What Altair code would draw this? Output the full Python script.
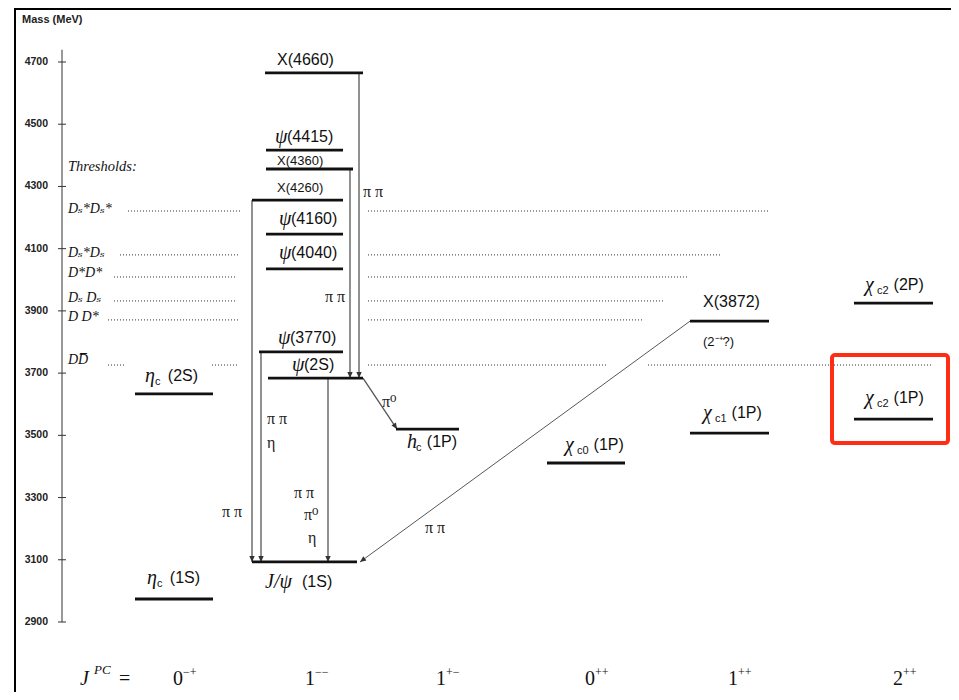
import math
import altair as alt
import pandas as pd

# ---------------- data ----------------
tick_values = [4700, 4500, 4300, 4100, 3900, 3700, 3500, 3300, 3100, 2900]
axis_top_mass = 4739

# charmonium levels
lvl_sym = ["", "ψ", "", "", "ψ", "ψ", "ψ", "ψ", "J/ψ", "η", "η", "h", "χ", "", "χ", "χ", "χ"]
lvl_sub = ["", "", "", "", "", "", "", "", "", "c", "c", "c", "c0", "", "c1", "c2", "c2"]
lvl_rest = ["X(4660)", "(4415)", "X(4360)", "X(4260)", "(4160)", "(4040)", "(3770)", "(2S)",
            "(1S)", "(2S)", "(1S)", "(1P)", "(1P)", "X(3872)", "(1P)", "(2P)", "(1P)"]
lvl_mass = [4665, 4417, 4356, 4256, 4147, 4035, 3768, 3684, 3093, 3633, 2974, 3520, 3411,
            3867, 3507, 3925, 3552]

# layout of the diagram (horizontal extents, label anchors)
lvl_x1 = [265, 266, 266, 252, 266, 266, 259, 268, 252, 135, 135, 396, 547, 690, 690, 854, 854]
lvl_x2 = [363, 343, 353, 343, 343, 343, 343, 363, 357, 213, 213, 459, 625, 769, 769, 933, 933]
lbl_x = [277, 275, 277, 277, 279, 279, 278, 292, 265, 145, 147, 407, 565, 703, 703, 865, 865]
lbl_m = [4705, 4459, 4382, 4295, 4195, 4086, 3813, 3726, 3029, 3691, 3041, 3479, 3469,
         3929, 3572, 3983, 3620]
lbl_gap = [0, 0, 0, 0, 0, 0, 0, 0, 5, 7, 7, 5, 5, 0, 5, 5, 5]
lbl_small = [False, False, True, True, False, False, False, False, False, False, False,
             False, False, False, False, False, False]

# thresholds
thr_names = ["Dₛ*Dₛ*", "Dₛ*Dₛ", "D*D*", "Dₛ Dₛ", "D D*", "DD\u0305"]
thr_mass = [4221, 4080, 4009, 3932, 3871, 3726]
thr_label_m = [4227, 4086, 4022, 3941, 3880, 3742]
thr_seg_idx = [0, 0, 1, 1, 2, 2, 3, 3, 4, 4, 5, 5, 5, 5]
thr_seg_x1 = [128, 368, 120, 368, 114, 368, 114, 368, 108, 368, 108, 212, 368, 648]
thr_seg_x2 = [240, 768, 238, 720, 237, 688, 237, 663, 240, 642, 126, 237, 607, 932]

# transitions (arrows)
arr_x1 = [359, 350, 252, 261, 328, 363, 690]
arr_m1 = [4665, 4356, 4256, 3768, 3684, 3684, 3867]
arr_x2 = [359, 350, 252, 261, 328, 397, 360]
arr_m2 = [3684, 3684, 3093, 3093, 3093, 3520, 3093]
arr_thin = [False, False, False, False, False, False, True]

# transition labels
tl_text = ["π π", "π π", "π π", "π π", "η", "π π", "π⁰", "η", "π⁰", "π π"]
tl_x = [363, 325, 222, 267, 267, 294, 304, 308, 382, 425]
tl_m = [4282, 3945, 3254, 3552, 3475, 3315, 3244, 3170, 3607, 3202]

# J^PC row
jpc_base = ["0", "1", "1", "0", "1", "2"]
jpc_sup = ["−+", "−−", "+−", "++", "++", "++"]
jpc_x = [173, 305, 436, 585, 728, 893]
jpc_m = 2717

# highlight box around chi_c2(1P)
hl_x1, hl_x2, hl_m1, hl_m2 = 832, 948, 3758, 3475

# ---------------- scales ----------------
W, H = 943, 684
PX_PER_MEV = 560 / 1800.0
top_mass = 4700 + (62 - 8) / PX_PER_MEV
bot_mass = 4700 - (8 + H - 62) / PX_PER_MEV
xs = alt.Scale(domain=[8, 8 + W], nice=False, zero=False)
ys = alt.Scale(domain=[bot_mass, top_mass], nice=False, zero=False)

SANS = "Liberation Sans, Arial, Helvetica, sans-serif"
SERIF = "Liberation Serif, Times New Roman, DejaVu Serif, serif"
INK = "#111111"


def X(f):
    return alt.X(f, type="quantitative", scale=xs, axis=None)


def X2(f):
    return alt.X2(f)


def Y(f):
    return alt.Y(f, type="quantitative", scale=ys, axis=None)


# ---------------- frame ----------------
frame_df = pd.DataFrame({"x1": [15, 15], "x2": [15, 959], "y1": [0, 1], "y2": [H, 1]})
frame = alt.Chart(frame_df).mark_rule(color="#000", strokeWidth=2).encode(
    x=alt.X("x1:Q", scale=xs, axis=None), x2="x2:Q",
    y=alt.Y("y1:Q", scale=None, axis=None), y2="y2:Q")

# ---------------- axis ----------------
axis_df = pd.DataFrame({"x": [62], "m1": [axis_top_mass], "m2": [tick_values[-1]]})
axis_line = alt.Chart(axis_df).mark_rule(color="#555", strokeWidth=1.2).encode(
    x=X("x"), y=Y("m1"), y2=alt.Y2("m2"))
tick_df = pd.DataFrame({"m": tick_values, "t1": 58, "t2": 66, "lx": 48})
ticks = alt.Chart(tick_df).mark_rule(color="#333", strokeWidth=1).encode(
    x=X("t1"), x2=X2("t2"), y=Y("m"))
tick_labels = alt.Chart(tick_df).mark_text(
    align="right", baseline="middle", font=SANS, fontWeight="bold", fontSize=10.5, color="#222"
).encode(x=X("lx"), y=Y("m"), text=alt.Text("m:Q", format="d"))
mass_title = alt.Chart(pd.DataFrame({"x": [22], "m": [4835], "t": ["Mass (MeV)"]})).mark_text(
    align="left", baseline="middle", font=SANS, fontWeight="bold", fontSize=11, color="#222"
).encode(x=X("x"), y=Y("m"), text="t:N")

# ---------------- thresholds ----------------
seg_df = pd.DataFrame({
    "x1": thr_seg_x1, "x2": thr_seg_x2,
    "m": [thr_mass[i] for i in thr_seg_idx],
})
thr_lines = alt.Chart(seg_df).mark_rule(color="#333", strokeWidth=1, strokeDash=[1, 2]).encode(
    x=X("x1"), x2=X2("x2"), y=Y("m"))
thr_lab_df = pd.DataFrame({"t": thr_names, "m": thr_label_m, "x": 68})
thr_labels = alt.Chart(thr_lab_df).mark_text(
    align="left", baseline="middle", font=SERIF, fontStyle="italic", fontSize=14, color=INK
).encode(x=X("x"), y=Y("m"), text="t:N")
thr_title = alt.Chart(pd.DataFrame({"x": [68], "m": [4362], "t": ["Thresholds:"]})).mark_text(
    align="left", baseline="middle", font=SERIF, fontStyle="italic", fontSize=14.5, color=INK
).encode(x=X("x"), y=Y("m"), text="t:N")

# ---------------- levels ----------------
sym_w = {"": 0, "ψ": 12, "J/ψ": 32, "η": 10, "χ": 12, "h": 9}
lv = pd.DataFrame({
    "sym": lvl_sym, "sub": lvl_sub, "rest": lvl_rest, "m": lvl_mass,
    "x1": lvl_x1, "x2": lvl_x2, "lx": lbl_x, "lm": lbl_m,
})
lv["subx"] = [lx + sym_w[s] for lx, s in zip(lbl_x, lvl_sym)]
lv["restx"] = [sx + 5.8 * len(sb) + g for sx, sb, g in zip(lv["subx"], lvl_sub, lbl_gap)]
lv["fs"] = [13 if s else 16 for s in lbl_small]

levels = alt.Chart(lv).mark_rule(color=INK, strokeWidth=2.8).encode(
    x=X("x1"), x2=X2("x2"), y=Y("m"))
sym_text = alt.Chart(lv).mark_text(
    align="left", baseline="middle", font=SERIF, fontStyle="italic", fontSize=20, color=INK
).encode(x=X("lx"), y=Y("lm"), text="sym:N")
sub_text = alt.Chart(lv).mark_text(
    align="left", baseline="middle", font=SANS, fontSize=11, dy=6, color=INK
).encode(x=X("subx"), y=Y("lm"), text="sub:N")
rest_text = alt.Chart(lv).mark_text(
    align="left", baseline="middle", font=SANS, color=INK
).encode(x=X("restx"), y=Y("lm"), text="rest:N", size=alt.Size("fs:Q", scale=None, legend=None))
jpc_note = alt.Chart(pd.DataFrame({"x": [703], "m": [3800], "t": ["(2⁻⁺?)"]})).mark_text(
    align="left", baseline="middle", font=SANS, fontSize=13, color=INK
).encode(x=X("x"), y=Y("m"), text="t:N")

# ---------------- transitions ----------------
ang = []
for a, b, c, d in zip(arr_x1, arr_m1, arr_x2, arr_m2):
    dx = c - a
    dy = (b - d) * PX_PER_MEV
    ang.append((math.degrees(math.atan2(-dx, dy)) + 360) % 360)
ar = pd.DataFrame({"x1": arr_x1, "m1": arr_m1, "x2": arr_x2, "m2": arr_m2,
                   "ang": ang, "thin": arr_thin})
arrow_thick = alt.Chart(ar[~ar["thin"]]).mark_rule(color="#555", strokeWidth=1.3).encode(
    x=X("x1"), x2=X2("x2"), y=Y("m1"), y2=alt.Y2("m2"))
arrow_thin = alt.Chart(ar[ar["thin"]]).mark_rule(color="#444", strokeWidth=0.9).encode(
    x=X("x1"), x2=X2("x2"), y=Y("m1"), y2=alt.Y2("m2"))
heads = alt.Chart(ar).mark_point(
    shape="M0,0L-0.45,-1L0.45,-1Z", filled=True, color="#333", size=144, opacity=1
).encode(x=X("x2"), y=Y("m2"), angle=alt.Angle("ang:Q", scale=None))

tl = pd.DataFrame({"t": tl_text, "x": tl_x, "m": tl_m})
tr_labels = alt.Chart(tl).mark_text(
    align="left", baseline="middle", font=SERIF, fontSize=16, color="#222"
).encode(x=X("x"), y=Y("m"), text="t:N")

# ---------------- J^PC row ----------------
jp = pd.DataFrame({"b": jpc_base, "s": jpc_sup, "x": jpc_x, "m": jpc_m})
jp["sx"] = jp["x"] + 10
base_txt = alt.Chart(jp).mark_text(
    align="left", baseline="middle", font=SERIF, fontSize=20, color=INK
).encode(x=X("x"), y=Y("m"), text="b:N")
sup_txt = alt.Chart(jp).mark_text(
    align="left", baseline="middle", font=SERIF, fontSize=12, dy=-7, color=INK
).encode(x=X("sx"), y=Y("m"), text="s:N")
jlab = pd.DataFrame({"t": ["J", "PC", "="], "x": [80, 94, 119], "m": jpc_m})
j_txt = alt.Chart(jlab[jlab["t"] == "J"]).mark_text(
    align="left", baseline="middle", font=SERIF, fontStyle="italic", fontSize=20, color=INK
).encode(x=X("x"), y=Y("m"), text="t:N")
pc_txt = alt.Chart(jlab[jlab["t"] == "PC"]).mark_text(
    align="left", baseline="middle", font=SERIF, fontStyle="italic", fontSize=13, dy=-9, color=INK
).encode(x=X("x"), y=Y("m"), text="t:N")
eq_txt = alt.Chart(jlab[jlab["t"] == "="]).mark_text(
    align="left", baseline="middle", font=SERIF, fontSize=20, color=INK
).encode(x=X("x"), y=Y("m"), text="t:N")

# ---------------- highlight ----------------
hl = pd.DataFrame({"x1": [hl_x1], "x2": [hl_x2], "m1": [hl_m1], "m2": [hl_m2]})
highlight = alt.Chart(hl).mark_rect(
    filled=False, stroke="#ff2d14", strokeWidth=4, cornerRadius=3
).encode(x=X("x1"), x2=X2("x2"), y=Y("m1"), y2=alt.Y2("m2"))

chart = alt.layer(
    frame, axis_line, ticks, tick_labels, mass_title,
    thr_lines, thr_labels, thr_title,
    arrow_thick, arrow_thin, heads,
    levels, sym_text, sub_text, rest_text, jpc_note,
    tr_labels, base_txt, sup_txt, j_txt, pc_txt, eq_txt, highlight,
).resolve_scale(y="independent").properties(
    width=W, height=H, padding=0, autosize="none", background="white"
).configure_view(stroke=None)

chart.save("out.html", embed_options={"renderer": "svg", "actions": False})
